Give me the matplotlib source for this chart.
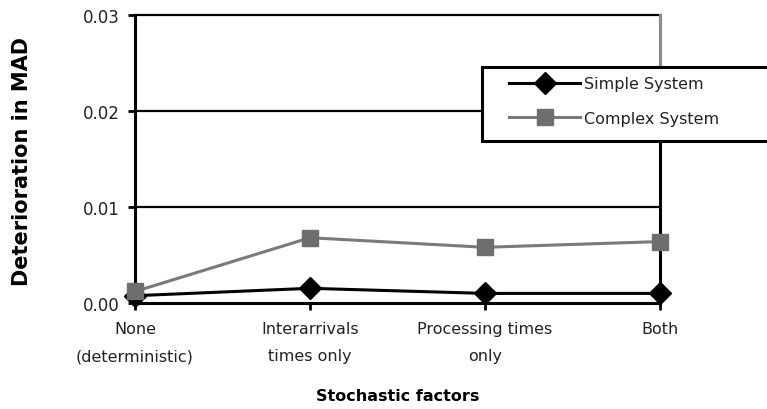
import matplotlib
matplotlib.use("Agg")
import matplotlib.pyplot as plt
from matplotlib.patches import Rectangle

categories = ["None\n(deterministic)", "Interarrivals\ntimes only", "Processing times\nonly", "Both"]
simple_system = [0.00076, 0.00153, 0.0010, 0.0010]
complex_system = [0.0012, 0.0068, 0.0058, 0.0064]
y_ticks = [0.00, 0.01, 0.02, 0.03]

plt.rcParams["font.family"] = "DejaVu Sans"
gray = "#7a7a7a"

fig = plt.figure(figsize=(7.67, 4.10), dpi=100)
ax = fig.add_axes([135 / 767, 1 - 304 / 410, 525 / 767, 288 / 410])

x = list(range(len(categories)))
ax.plot(x, simple_system, color="black", lw=2.2, marker="D", markersize=11,
        label="Simple System", clip_on=False, zorder=4)
ax.plot(x, complex_system, color=gray, lw=2.2, marker="s", markersize=12,
        markerfacecolor="#6e6e6e", markeredgecolor="#6e6e6e",
        label="Complex System", clip_on=False, zorder=5)

ax.set_xlim(0, 3)
ax.set_ylim(0, 0.03)
ax.set_yticks(y_ticks)
ax.set_yticklabels([f"{v:.2f}" for v in y_ticks])
ax.set_xticks(x)
ax.set_xticklabels(categories, linespacing=2.0)

for v in y_ticks[1:3]:
    ax.axhline(v, color="black", lw=1.6, zorder=1)

for side in ["left", "bottom", "top", "right"]:
    ax.spines[side].set_color("black")
    ax.spines[side].set_linewidth(2.2)
ax.spines["top"].set_linewidth(1.6)
ax.axvline(3, ymin=0.82, color="#8c8c8c", lw=2.2, zorder=3, clip_on=False)

ax.tick_params(axis="both", direction="out", length=5, width=2, colors="black",
               labelcolor="#222222", pad=6)
ax.tick_params(axis="y", labelsize=12)
ax.tick_params(axis="x", labelsize=11.5, pad=8)

ax.set_xlabel("Stochastic factors", fontsize=11.5, fontweight="bold", labelpad=18)
fig.text(22 / 767, 1 - 162 / 410, "Deterioration in MAD", rotation=90,
         fontsize=15, fontweight="black", ha="center", va="center")

# legend box runs off the right edge of the figure
fig.patches.append(Rectangle((482 / 767, 1 - 142 / 410), 0.5, 74 / 410,
                             transform=fig.transFigure, facecolor="white",
                             edgecolor="black", lw=2.2, zorder=5))
fig.legend(loc="upper left", bbox_to_anchor=(495 / 767, 1 - 63 / 410),
           frameon=False, fontsize=11.5, handlelength=4.4, handletextpad=0.3,
           labelspacing=1.2, labelcolor="#222222").set_zorder(6)

fig.savefig("out.png", dpi=100)
